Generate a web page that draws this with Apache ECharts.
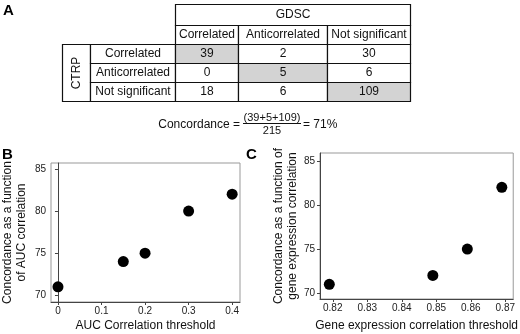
<!DOCTYPE html>
<html>
<head>
<meta charset="utf-8">
<script src="https://cdn.jsdelivr.net/npm/echarts@6/dist/echarts.min.js"></script>
<style>html,body{margin:0;padding:0;background:#fff}#c{width:520px;height:334px}</style>
</head>
<body>
<div id="c"></div>
<script>
// ---- data ----
const gdscCols = ['Correlated', 'Anticorrelated', 'Not significant'];
const ctrpRows = ['Correlated', 'Anticorrelated', 'Not significant'];
const counts = [
  [39, 2, 30],
  [0, 5, 6],
  [18, 6, 109]
];
const bThresholds = [0, 0.15, 0.2, 0.3, 0.4];
const bConcordance = [71, 74, 75, 80, 82];
const cThresholds = [0.819, 0.849, 0.859, 0.869];
const cConcordance = [71, 72, 75, 82];
const bXTicks = [0, 0.1, 0.2, 0.3, 0.4];
const cXTicks = [0.82, 0.83, 0.84, 0.85, 0.86, 0.87];
const yTicks = [70, 75, 80, 85];

// ---- style ----
const FONT = '"Liberation Sans", Arial, sans-serif';
const GRAY = '#d3d3d3';

const chart = echarts.init(document.getElementById('c'), null, {renderer: 'canvas'});

function cellRenderer(cells) {
  return function (params, api) {
    const cell = cells[params.dataIndex];
    const c = api.coord([api.value(0), api.value(1)]);
    const s = api.size([1, 1]);
    const x = Math.round(c[0] - s[0] / 2) + 0.5;
    const y = Math.round(c[1] - s[1] / 2) + 0.5;
    const w = Math.round(s[0]);
    const h = Math.round(s[1] * (cell.span || 1));
    return {
      type: 'group',
      children: [
        {type: 'rect', shape: {x: x, y: y, width: w, height: h},
         style: {fill: cell.fill || '#fff', stroke: '#111', lineWidth: 1.2}},
        {type: 'text', x: x + w / 2, y: y + h / 2, rotation: cell.rotate ? Math.PI / 2 : 0,
         style: {text: cell.text, align: 'center', verticalAlign: 'middle',
                 font: '12px ' + FONT, fill: '#111'}}
      ]
    };
  };
}

function cellSeries(cells, axisIdx) {
  return {
    type: 'custom', coordinateSystem: 'cartesian2d',
    xAxisIndex: axisIdx, yAxisIndex: axisIdx, silent: true,
    renderItem: cellRenderer(cells),
    data: cells.map(c => [c.col, c.row])
  };
}

// table cells
const ctrpCells = [{col: 0, row: 0, text: 'CTRP', rotate: true}];
const rowLabelCells = ctrpRows.map((r, i) => ({col: 0, row: i, text: r}));
const gdscCells = [{col: 0, row: 0, text: 'GDSC'}];
const dataCells = gdscCols.map((cname, j) => {
  const arr = [{col: 0, row: 0, text: cname}];
  ctrpRows.forEach((r, i) => arr.push({col: 0, row: i + 1, text: String(counts[i][j]),
    fill: i === j ? GRAY : '#fff'}));
  return arr;
});

// concordance
const diag = counts.map((r, i) => r[i]);
const total = counts.flat().reduce((a, b) => a + b, 0);
const pct = Math.round(100 * diag.reduce((a, b) => a + b, 0) / total);

function scatterAxes(idx, xmin, xmax, xticks, xname, yname, xgap, ygap) {
  const common = {
    axisLine: {show: true, lineStyle: {color: '#444', width: 1}},
    axisTick: {show: true, length: 3, lineStyle: {color: '#444'}},
    splitLine: {show: false},
    nameLocation: 'middle',
    nameTextStyle: {fontFamily: FONT, fontSize: 12, color: '#111', lineHeight: 14}
  };
  return {
    x: Object.assign({}, common, {
      type: 'value', gridIndex: idx, min: xmin, max: xmax, name: xname, nameGap: xgap,
      axisTick: Object.assign({}, common.axisTick, {customValues: xticks}),
      axisLabel: {customValues: xticks, fontFamily: FONT, fontSize: 10, color: '#222', margin: 4}
    }),
    y: Object.assign({}, common, {
      type: 'value', gridIndex: idx, min: 69.2, max: 85.7, name: yname, nameGap: ygap,
      nameRotate: 90,
      axisTick: Object.assign({}, common.axisTick, {customValues: yTicks}),
      axisLabel: {customValues: yTicks, fontFamily: FONT, fontSize: 10, color: '#222', margin: 5}
    })
  };
}

const axB = scatterAxes(0, -0.016, 0.418, bXTicks, 'AUC Correlation threshold',
  'Concordance as a function\nof AUC correlation', 17, 22);
const axC = scatterAxes(1, 0.8163, 0.8723, cXTicks, 'Gene expression correlation threshold',
  'Concordance as a function of\ngene expression correlation', 20, 20);
axC.y.min = 69.33; axC.y.max = 85.9;

function hiddenCat(idx, data) {
  return {type: 'category', gridIndex: idx, data: data, show: false};
}
function hiddenCatY(idx, data) {
  return {type: 'category', gridIndex: idx, data: data, show: false, inverse: true};
}

const option = {
  animation: false,
  backgroundColor: '#fff',
  grid: [
    {left: 50, top: 163, width: 190, height: 142, show: true, borderColor: '#999', borderWidth: 1},
    {left: 320, top: 153, width: 198, height: 149, show: true, borderColor: '#999', borderWidth: 1},
    {left: 62, top: 44, width: 28, height: 57},
    {left: 90, top: 44, width: 85, height: 57},
    {left: 175, top: 4, width: 235, height: 21},
    {left: 175, top: 25, width: 63, height: 76},
    {left: 238, top: 25, width: 89, height: 76},
    {left: 327, top: 25, width: 83, height: 76}
  ],
  xAxis: [
    axB.x, axC.x,
    hiddenCat(2, ['CTRP']),
    hiddenCat(3, ['rows']),
    hiddenCat(4, ['GDSC']),
    hiddenCat(5, [gdscCols[0]]),
    hiddenCat(6, [gdscCols[1]]),
    hiddenCat(7, [gdscCols[2]])
  ],
  yAxis: [
    axB.y, axC.y,
    hiddenCatY(2, ['CTRP']),
    hiddenCatY(3, ctrpRows),
    hiddenCatY(4, ['GDSC']),
    hiddenCatY(5, ['hdr'].concat(ctrpRows)),
    hiddenCatY(6, ['hdr'].concat(ctrpRows)),
    hiddenCatY(7, ['hdr'].concat(ctrpRows))
  ],
  series: [
    {type: 'scatter', xAxisIndex: 0, yAxisIndex: 0, symbolSize: 11,
     itemStyle: {color: '#000', opacity: 1}, data: bThresholds.map((x, i) => [x, bConcordance[i]])},
    {type: 'scatter', xAxisIndex: 1, yAxisIndex: 1, symbolSize: 11,
     itemStyle: {color: '#000', opacity: 1}, data: cThresholds.map((x, i) => [x, cConcordance[i]])},
    cellSeries(ctrpCells, 2),
    cellSeries(rowLabelCells, 3),
    cellSeries(gdscCells, 4),
    cellSeries(dataCells[0], 5),
    cellSeries(dataCells[1], 6),
    cellSeries(dataCells[2], 7)
  ],
  graphic: [
    {type: 'text', left: 3, top: 3, style: {text: 'A', font: 'bold 15px ' + FONT, fill: '#000'}},
    {type: 'text', left: 2, top: 147, style: {text: 'B', font: 'bold 15px ' + FONT, fill: '#000'}},
    {type: 'text', left: 246, top: 147, style: {text: 'C', font: 'bold 15px ' + FONT, fill: '#000'}},
    {type: 'text', x: 240, y: 125, style: {text: 'Concordance =', align: 'right', verticalAlign: 'middle',
      font: '12px ' + FONT, fill: '#111'}},
    {type: 'text', x: 272, y: 117.5, style: {text: '(' + diag.join('+') + ')', align: 'center',
      verticalAlign: 'middle', font: '11px ' + FONT, fill: '#111'}},
    {type: 'line', shape: {x1: 243, y1: 123.5, x2: 301, y2: 123.5}, style: {stroke: '#111', lineWidth: 1}},
    {type: 'text', x: 272, y: 131, style: {text: String(total), align: 'center',
      verticalAlign: 'middle', font: '11px ' + FONT, fill: '#111'}},
    {type: 'text', x: 303, y: 125, style: {text: '= ' + pct + '%', align: 'left', verticalAlign: 'middle',
      font: '12px ' + FONT, fill: '#111'}}
  ]
};
chart.setOption(option);
</script>
</body>
</html>
